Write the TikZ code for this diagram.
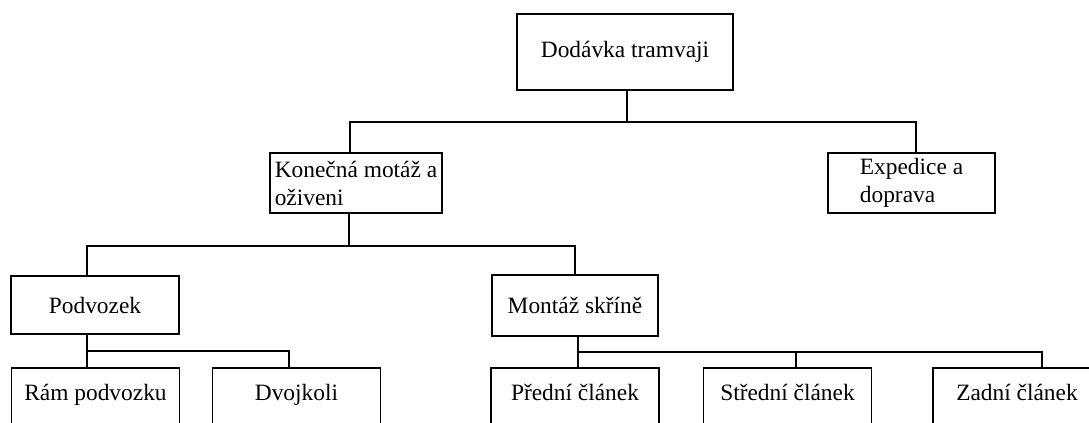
\documentclass[tikz,border=0pt]{standalone}
\usepackage{fontspec}
\setmainfont{Liberation Serif}
\usepackage{tikz}

\begin{document}
\begin{tikzpicture}[x=0.5pt,y=-0.5pt,
		box/.style={draw,line width=0.8pt,inner sep=0pt,font=\fontsize{11.7}{14}\selectfont},
		leaf/.style={box,minimum width=84pt,text height=16.5pt,text depth=20pt,anchor=north},
		conn/.style={line width=0.8pt}]
	\useasboundingbox (0,0) rectangle (1089,423);
	\node [box,minimum width=108pt,minimum height=38pt] (dod) at (625,52) {Dodávka tramvaji};
	\node [box,minimum width=86pt,minimum height=30pt,align=left] (kon) at (356,183) {Konečná motáž a\\oživeni};
	\node [box,minimum width=83.5pt,minimum height=30pt,align=left] (exp) at (911.5,183) {Expedice a\\doprava};
	\node [box,minimum width=84pt,minimum height=29pt] (pod) at (95,305) {Podvozek};
	\node [box,minimum width=83pt,minimum height=30.5pt] (mon) at (575,305.5) {Montáž skříně};
	%
	\node [leaf] (ram) at (95.5,367) {Rám podvozku};
	\node [leaf] (dvo) at (296.5,367) {Dvojkoli};
	\node [leaf] (pre) at (575,367) {Přední článek};
	\node [leaf] (str) at (787.5,367) {Střední článek};
	\node [leaf] (zad) at (1017,367) {Zadní článek};
	%
	\draw [conn] ([xshift=1pt]dod.south) -- ++(0,31) -| ([xshift=-3pt]kon.north);
	\draw [conn] ([xshift=1pt]dod.south) -- ++(0,31) -| ([xshift=2.25pt]exp.north);
	\draw [conn] ([xshift=-3.5pt]kon.south) -- ++(0,32) -| ([xshift=-4pt]pod.north);
	\draw [conn] ([xshift=-3.5pt]kon.south) -- ++(0,32) -| (mon.north);
	\draw [conn] ([xshift=-4pt]pod.south) -- ++(0,16) -| ([xshift=-4.25pt]ram.north);
	\draw [conn] ([xshift=-4pt]pod.south) -- ++(0,16) -| ([xshift=-3.75pt]dvo.north);
	\draw [conn] ([xshift=1.5pt]mon.south) -- ++(0,15) -| ([xshift=1.5pt]pre.north);
	\draw [conn] ([xshift=1.5pt]mon.south) -- ++(0,15) -| ([xshift=4.25pt]str.north);
	\draw [conn] ([xshift=1.5pt]mon.south) -- ++(0,15) -| ([xshift=12.5pt]zad.north);
\end{tikzpicture}
\end{document}
